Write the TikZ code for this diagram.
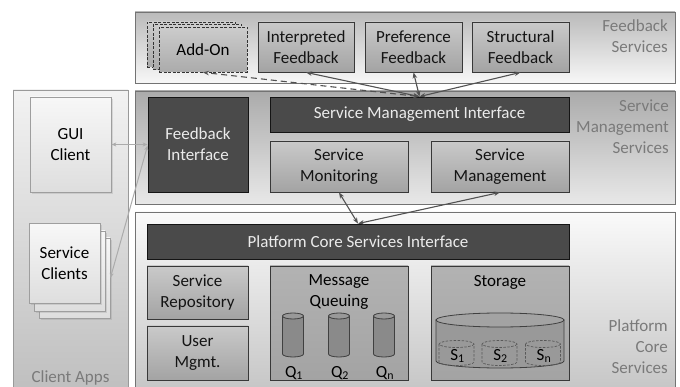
\documentclass[tikz,border=0pt]{standalone}
\usepackage{fontspec}
\setmainfont{Carlito}
\usetikzlibrary{arrows.meta,shadows}
\begin{document}
\begin{tikzpicture}[x=1pt,y=-1pt,
  font=\fontsize{17}{21}\selectfont,
  panel/.style={draw=black!55, line width=0.8pt, inner sep=0pt},
  midbox/.style={draw=black!78, line width=0.8pt, top color=black!21, bottom color=black!36,
    text=black!92, align=center, inner sep=0pt},
  darkbox/.style={draw=black!92, line width=0.8pt, fill=black!71, text=white!92!black,
    align=center, inner sep=0pt},
  addonbox/.style={draw=black!80, line width=0.8pt, dash pattern=on 3pt off 1.5pt,
    top color=black!20, bottom color=black!33, align=center, inner sep=0pt,
    minimum width=88pt, minimum height=45pt},
  clientbox/.style={draw=black!38, line width=0.8pt, top color=white!97!black,
    bottom color=black!13, align=center, inner sep=0pt,
    drop shadow={opacity=0.22, shadow xshift=1.6pt, shadow yshift=-1.6pt}},
  grouplabel/.style={text=black!52, align=right, inner sep=0pt, anchor=north east},
  link/.style={draw=black!68, line width=1.1pt, {Stealth[length=6pt,width=4.5pt]}-{Stealth[length=6pt,width=4.5pt]}},
  clientlink/.style={draw=black!33, line width=1pt, {Stealth[length=5pt,width=4pt]}-{Stealth[length=5pt,width=4pt]}},
  cylbody/.style={draw=black!75, line width=0.8pt},
  qcyl/.pic={
    \draw[cylbody, fill=black!46] (-10.5,-19) -- (-10.5,19)
      arc[start angle=180, end angle=0, x radius=10.5, y radius=3] -- (10.5,-19) -- cycle;
    \draw[cylbody, fill=black!40] (0,-19) ellipse[x radius=10.5, y radius=3];
  },
  scyl/.pic={
    \draw[draw=black!65, line width=0.7pt, dash pattern=on 2.5pt off 1.5pt]
      (-17.5,-9) -- (-17.5,9)
      arc[start angle=180, end angle=0, x radius=17.5, y radius=3.5] -- (17.5,-9);
    \draw[draw=black!65, line width=0.7pt, dash pattern=on 2.5pt off 1.5pt]
      (0,-9) ellipse[x radius=17.5, y radius=3.5];
  }
]
\useasboundingbox (0,0) rectangle (680,387);
\fill[white] (0,0) rectangle (680,387);

% ---------- group panels ----------
\node[panel, top color=black!27, bottom color=white!97!black,
  minimum width=540pt, minimum height=71pt] (fbpanel) at (405,47.5) {};
\node[panel, top color=black!33, bottom color=black!9,
  minimum width=540pt, minimum height=113pt] (smpanel) at (405,147.5) {};
\node[panel, top color=white!98!black, bottom color=black!22,
  minimum width=540pt, minimum height=175pt] (pcpanel) at (405,299.5) {};
\node[panel, draw=black!40, top color=white!95!black, bottom color=black!25,
  minimum width=115pt, minimum height=298pt] (clpanel) at (70.5,239) {};

\node[grouplabel] (fblabel) at (668,20) {Feedback\\Services};
\node[grouplabel] (smlabel) at (669,99.5) {Service\\Management\\Services};
\node[grouplabel] (pclabel) at (668,319) {Platform\\Core\\Services};
\node[text=black!52, inner sep=0pt] (cllabel) at (70.5,378) {Client Apps};

% ---------- feedback services ----------
\node[addonbox] (addon3) at (191,44.5) {};
\node[addonbox] (addon2) at (197,47) {};
\node[addonbox] (addon) at (203,49.5) {Add-On};
\node[midbox, minimum width=96pt, minimum height=50pt] (interp) at (306,47) {Interpreted\\Feedback};
\node[midbox, minimum width=97pt, minimum height=50pt] (pref) at (413.5,47) {Preference\\Feedback};
\node[midbox, minimum width=97pt, minimum height=50pt] (struct) at (520.5,47) {Structural\\Feedback};

% ---------- service management services ----------
\node[darkbox, minimum width=100pt, minimum height=95pt] (fbif) at (198,144.5) {Feedback\\Interface};
\node[darkbox, minimum width=299pt, minimum height=35pt] (smi) at (419.5,114.5) {Service Management Interface};
\node[midbox, minimum width=138pt, minimum height=51pt] (smon) at (339,166.5) {Service\\Monitoring};
\node[midbox, minimum width=138pt, minimum height=51pt] (smgmt) at (500,166.5) {Service\\Management};

% ---------- platform core services ----------
\node[darkbox, minimum width=422pt, minimum height=35pt] (pcsi) at (358,241.5) {Platform Core Services Interface};
\node[midbox, minimum width=101pt, minimum height=53pt] (srepo) at (197.5,292.5) {Service\\Repository};
\node[midbox, minimum width=101pt, minimum height=54pt] (umgmt) at (197.5,353) {User\\Mgmt.};
\node[midbox, top color=black!30, bottom color=black!36,
  minimum width=138pt, minimum height=114pt] (mq) at (339,323) {};
\node[inner sep=0pt, align=center] (mqlabel) at (339,292.5) {Message\\Queuing};
\node[midbox, top color=black!30, bottom color=black!36,
  minimum width=138pt, minimum height=114pt] (store) at (500,323) {};
\node[inner sep=0pt] (storelabel) at (500,282) {Storage};

% message queues
\foreach \qx/\qi in {293/1, 339/2, 384/n}{
  \pic at (\qx,335) {qcyl};
  \node[inner sep=0pt] (q\qi) at (\qx+1,373) {Q\textsubscript{\qi}};
}

% storage drum with its partitions
\draw[cylbody, fill=black!40] (436,320) -- (436,361)
  arc[start angle=180, end angle=0, x radius=64, y radius=7] -- (564,320) -- cycle;
\draw[cylbody, fill=black!36] (500,320) ellipse[x radius=64, y radius=7];
\foreach \sx/\si in {456.5/1, 499.5/2, 543/n}{
  \pic at (\sx,353) {scyl};
  \node[inner sep=0pt] (s\si) at (\sx+1,356) {S\textsubscript{\si}};
}

% ---------- client apps ----------
\node[clientbox, minimum width=81pt, minimum height=95pt] (gui) at (70.5,144.5) {GUI\\Client};
\node[clientbox, minimum width=71pt, minimum height=80pt] (sc3) at (74.5,278) {};
\node[clientbox, minimum width=71pt, minimum height=80pt] (sc2) at (69.5,271) {};
\node[clientbox, minimum width=71pt, minimum height=80pt] (sc) at (64.5,263.5) {Service\\Clients};

% ---------- connectors ----------
\draw[link] (smi.north) -- (interp.south);
\draw[link] (smi.north) -- (pref.south);
\draw[link] (smi.north) -- (struct.south);
\draw[link, dash pattern=on 6pt off 4pt] (smi.north) -- (addon.south);
\draw[link] (pcsi.north) -- (smon.south);
\draw[link] (pcsi.north) -- (smgmt.south);
\draw[clientlink] (gui.east) -- (fbif.west);
\draw[clientlink] ([yshift=-1pt]fbif.west) -- (sc3.east);
\end{tikzpicture}
\end{document}
